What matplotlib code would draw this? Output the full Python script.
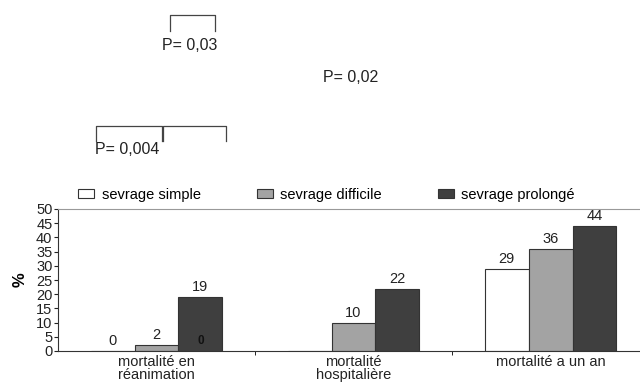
import matplotlib
matplotlib.use("Agg")
import matplotlib.pyplot as plt
import numpy as np
from matplotlib.lines import Line2D

plt.rcParams["font.family"] = ["Liberation Sans", "DejaVu Sans"]

categories = ["mortalité en\nréanimation", "mortalité\nhospitalière", "mortalité a un an"]
series = ["sevrage simple", "sevrage difficile", "sevrage prolongé"]
simple = [0, 0, 29]
difficile = [2, 10, 36]
prolonge = [19, 22, 44]
labels_simple = ["0", "", "29"]
labels_difficile = ["2", "10", "36"]
labels_prolonge = ["19", "22", "44"]
colors = ["white", "#a3a3a3", "#3f3f3f"]

W, H = 640, 385
fig = plt.figure(figsize=(6.4, 3.85), dpi=100)
ax = fig.add_axes([58 / W, 1 - 351 / H, 1 - 58 / W, (351 - 209) / H])

x = np.arange(len(categories))
w = 0.223
for i, (vals, labs) in enumerate([(simple, labels_simple), (difficile, labels_difficile), (prolonge, labels_prolonge)]):
    bars = ax.bar(x + (i - 1) * w, vals, w, color=colors[i], edgecolor="#333333", linewidth=0.8, label=series[i])
    for b, v, t in zip(bars, vals, labs):
        if t:
            ax.text(b.get_x() + b.get_width() / 2, v + 1, t, ha="center", va="bottom", fontsize=10.5, color="#222222")

# stray label inside the first dark bar
ax.text(x[0] + w, 1.5, "0", ha="center", va="bottom", fontsize=8.5, fontweight="bold", color="#111111")

ax.set_xlim(-0.5, 2.454)
ax.set_ylim(0, 50)
ax.set_yticks(np.arange(0, 51, 5))
ax.tick_params(axis="y", labelsize=10.5, length=3, pad=1, colors="#222222")
ax.set_xticks(x)
ax.set_xticklabels(categories, fontsize=10.5, linespacing=0.85, color="#222222")
ax.set_xticks([0.5, 1.5], minor=True)
ax.tick_params(axis="x", which="major", length=0, pad=3)
ax.tick_params(axis="x", which="minor", length=3, direction="out")
ax.set_ylabel("%", fontsize=12, fontweight="bold", labelpad=6)

ax.spines["right"].set_visible(False)
ax.spines["top"].set_color("#999999")
ax.spines["left"].set_color("#333333")
ax.spines["bottom"].set_color("#333333")

ax.legend(loc="lower left", bbox_to_anchor=(0.02, 0.99), ncol=3, frameon=False, fontsize=10.5,
          handlelength=1.1, handleheight=0.6, columnspacing=3.85, handletextpad=0.5, borderaxespad=0.2)


# significance brackets (figure pixel coordinates)
def px_line(xs, ys):
    fig.add_artist(Line2D([v / W for v in xs], [1 - v / H for v in ys], color="#444444", linewidth=0.9))


px_line([170, 170, 215, 215], [31, 15, 15, 31])
px_line([96, 96, 162, 162], [141, 126, 126, 141])
px_line([163, 163, 226, 226], [141, 126, 126, 141])

fig.text(162 / W, 1 - 46 / H, "P= 0,03", fontsize=11.5, va="center", color="#222222")
fig.text(323 / W, 1 - 77 / H, "P= 0,02", fontsize=11.5, va="center", color="#222222")
fig.text(95 / W, 1 - 150 / H, "P= 0,004", fontsize=11.5, va="center", color="#222222")

fig.savefig("out.png", dpi=100)
